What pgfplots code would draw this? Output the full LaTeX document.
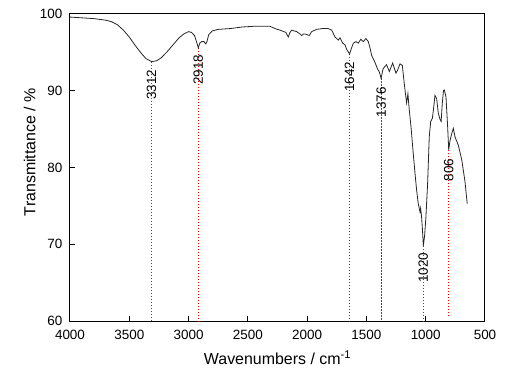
\documentclass[border=0pt]{standalone}
\usepackage{fontspec}
\setmainfont{Liberation Sans}
\usepackage{pgfplots}
\pgfplotsset{compat=1.18}
\tikzset{plabel/.style={rotate=90, anchor=east, inner sep=0pt, outer sep=0pt}}
\pgfplotsset{peak/.style={red, line width=0.9bp, dash pattern=on 1.5bp off 1.5bp, forget plot}}
\begin{document}
\fontsize{13.5}{16}\selectfont
\begin{tikzpicture}
\path[use as bounding box] (-70bp,-58bp) rectangle (454bp,321bp);
\begin{axis}[at={(0,0)}, anchor=south west, scale only axis,
 width=415bp, height=307bp,
 x dir=reverse, xmin=500, xmax=4000, ymin=60, ymax=100,
 xtick={500,1000,...,4000}, ytick={60,70,80,90,100},
 tick align=inside, xtick pos=left, ytick pos=left, major tick length=5bp,
 axis line style={line width=1bp, black},
 tick style={line width=1bp, black},
 /pgf/number format/assume math mode=true,
 /pgf/number format/1000 sep={},
 xticklabel style={yshift=-4bp},
 yticklabel style={xshift=-3bp},
 xlabel={Wavenumbers / cm\textsuperscript{-1}},
 ylabel={Transmittance / \%},
 label style={font=\fontsize{16}{19}\selectfont},
 xlabel style={at={(axis description cs:0.5,-0.12)}, anchor=center},
 ylabel style={at={(axis description cs:-0.097,0.55)}, anchor=center},
 clip=false,
]
\addplot[peak] coordinates {(3312,93.8) (3312,60)};
\addplot[peak] coordinates {(2918,95.6) (2918,60)};
\addplot[peak] coordinates {(1642,94.8) (1642,60)};
\addplot[peak] coordinates {(1376,91.6) (1376,60)};
\addplot[peak] coordinates {(1020,69.8) (1020,60)};
\addplot[peak] coordinates {(806,82.3) (806,60.5)};
\addplot[black!85, line width=0.8bp, mark=none] table {
4000 99.6
3900 99.5
3800 99.4
3700 99.2
3650 99.0
3600 98.6
3550 97.9
3500 97.0
3450 95.9
3400 94.9
3360 94.2
3312 93.8
3270 93.9
3230 94.3
3180 95.1
3130 96.0
3080 96.9
3040 97.4
3000 97.7
2975 97.6
2950 97.2
2935 96.5
2918 95.6
2905 96.2
2890 96.4
2870 96.4
2855 96.1
2845 96.4
2830 97.3
2800 97.8
2750 98.0
2650 98.1
2550 98.3
2450 98.4
2350 98.4
2313 98.4
2270 98.1
2229 97.9
2180 97.6
2159 97.0
2145 97.6
2130 97.9
2110 97.8
2088 97.7
2060 97.4
2046 97.2
2030 97.4
2018 97.4
2000 97.3
1982 97.2
1962 97.7
1920 98.0
1870 98.1
1822 98.1
1793 97.9
1765 97.0
1737 96.6
1723 96.9
1700 96.2
1681 96.0
1667 95.4
1642 94.8
1625 95.6
1610 96.2
1588 96.4
1568 96.2
1548 96.7
1526 96.4
1504 96.8
1484 96.4
1470 95.6
1456 94.6
1428 93.7
1408 92.9
1390 92.4
1376 91.6
1365 92.5
1358 92.9
1330 93.4
1307 92.5
1279 93.6
1251 92.3
1237 92.7
1217 93.5
1197 93.3
1180 90.8
1161 88.4
1150 89.6
1141 87.9
1124 85.3
1105 81.8
1090 79.2
1077 77.1
1063 75.3
1048 74.2
1043 74.7
1035 73.6
1027 71.8
1020 69.8
1010 71.0
998 73.6
984 77.9
970 84.0
958 86.0
944 86.4
935 87.5
922 89.4
908 89.0
894 87.1
880 86.3
870 86.0
860 88.4
850 90.0
843 90.1
829 89.2
815 85.3
806 82.3
795 83.5
781 84.4
767 85.1
753 84.0
725 82.9
696 81.0
669 78.2
650 75.3
};
\node[plabel] at ([yshift=-8bp]axis cs:3312,93.8) {3312};
\node[plabel] at ([yshift=-7bp]axis cs:2918,95.6) {2918};
\node[plabel] at ([yshift=-8bp]axis cs:1642,94.8) {1642};
\node[plabel] at ([yshift=-9bp]axis cs:1376,91.6) {1376};
\node[plabel] at ([yshift=-7bp]axis cs:1020,69.8) {1020};
\node[plabel] at ([yshift=-9bp]axis cs:806,82.3) {806};
\end{axis}
\end{tikzpicture}
\end{document}
